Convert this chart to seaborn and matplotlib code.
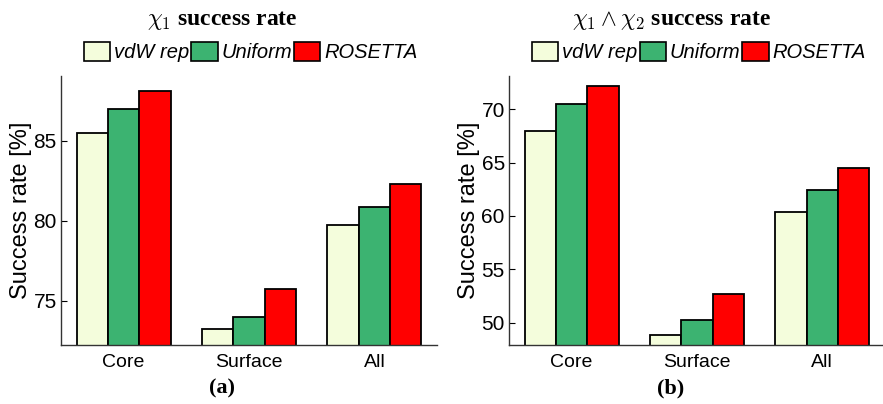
import matplotlib
matplotlib.use("Agg")
import matplotlib.pyplot as plt
import pandas as pd
import seaborn as sns
from matplotlib.patches import Patch

# Data
categories = ["Core", "Surface", "All"]
methods = ["vdW rep", "Uniform", "ROSETTA"]
chi1_vdw = [85.48, 73.20, 79.73]
chi1_uniform = [87.00, 73.94, 80.88]
chi1_rosetta = [88.08, 75.71, 82.30]
chi12_vdw = [67.97, 48.90, 60.40]
chi12_uniform = [70.44, 50.25, 62.43]
chi12_rosetta = [72.15, 52.68, 64.45]

colors = {"vdW rep": "#F4FDDC", "Uniform": "#3CB371", "ROSETTA": "#FF0000"}


def to_frame(vdw, uni, ros):
    rows = []
    for m, vals in zip(methods, [vdw, uni, ros]):
        for c, v in zip(categories, vals):
            rows.append({"category": c, "method": m, "value": v})
    return pd.DataFrame(rows)


sns.set_style("white", {"text.color": "black", "axes.labelcolor": "black",
                        "xtick.color": "black", "ytick.color": "black"})
plt.rcParams["font.family"] = ["Liberation Sans", "DejaVu Sans"]
plt.rcParams["mathtext.fontset"] = "cm"

fig = plt.figure(figsize=(8.83, 4.04), dpi=100)
ax1 = fig.add_axes([0.0691, 0.1453, 0.4258, 0.6666])
ax2 = fig.add_axes([0.5764, 0.1453, 0.4258, 0.6666])

panels = [
    (ax1, to_frame(chi1_vdw, chi1_uniform, chi1_rosetta), (72.2, 89.05), [75, 80, 85],
     r"$\chi_1$", 0.2514, 0.284, "(a)"),
    (ax2, to_frame(chi12_vdw, chi12_uniform, chi12_rosetta), (47.9, 73.1), [50, 55, 60, 65, 70],
     r"$\chi_1 \wedge \chi_2$", 0.76, 0.7916, "(b)"),
]

for ax, df, ylim, yticks, sym, tx, lx, sub in panels:
    sns.barplot(data=df, x="category", y="value", hue="method", hue_order=methods,
                palette=colors, width=0.75, gap=0, edgecolor="black", linewidth=1.3,
                saturation=1, errorbar=None, legend=False, ax=ax)
    ax.set_xlim(-0.5, 2.5)
    ax.set_ylim(*ylim)
    ax.set_yticks(yticks)
    ax.set_xlabel("")
    ax.set_ylabel("Success rate [%]", fontsize=17, labelpad=1)
    ax.tick_params(axis="y", direction="in", length=4, width=0.8, labelsize=15, pad=3, left=True)
    ax.tick_params(axis="x", length=0, labelsize=14, pad=6)
    sns.despine(ax=ax)
    for s in ["left", "bottom"]:
        ax.spines[s].set_color("#333333")
        ax.spines[s].set_linewidth(1.0)

    # panel title: math symbol + bold serif text
    fig.text(tx, 0.95, sym + " success rate", ha="center", va="center",
             fontsize=17, family="Liberation Serif", weight="bold")

    handles = [Patch(facecolor=colors[m], edgecolor="black", linewidth=1.2, label=m) for m in methods]
    fig.legend(handles=handles, loc="center", bbox_to_anchor=(lx, 0.871), ncol=3,
               frameon=False, handlelength=1.3, handleheight=1.05, handletextpad=0.2,
               columnspacing=0.1, borderpad=0,
               prop={"family": "Liberation Sans", "style": "italic", "size": 14.5})

    fig.text(tx, 0.038, sub, ha="center", va="center", fontsize=16,
             family="Liberation Serif", weight="bold")

fig.savefig("out.png", dpi=100)
